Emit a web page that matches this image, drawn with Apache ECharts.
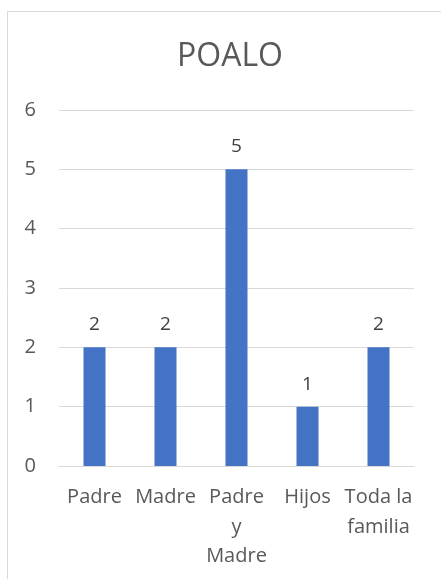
<!DOCTYPE html>
<html><head><meta charset="utf-8">
<script src="https://cdn.jsdelivr.net/npm/echarts@6/dist/echarts.min.js"></script>
<style>html,body{margin:0;padding:0;background:#fff}#c{width:441px;height:579px}</style>
</head><body><div id="c"></div>
<script>
var title = 'POALO';
var categories = ['Padre', 'Madre', 'Padre\ny\nMadre', 'Hijos', 'Toda la\nfamilia'];
var values = [2, 2, 5, 1, 2];
var yTicks = [0, 1, 2, 3, 4, 5, 6];

var chart = echarts.init(document.getElementById('c'));
var font = '"Open Sans", "Noto Sans", sans-serif';
chart.setOption({
  animation: false,
  graphic: [{
    type: 'rect', shape: {x: 7.5, y: 11.5, width: 600, height: 700},
    style: {fill: 'none', stroke: '#d9d9d9', lineWidth: 1}, silent: true, z: -1
  }],
  title: {
    text: title, left: 225, textAlign: 'center', top: 36,
    textStyle: {fontFamily: font, fontSize: 32, fontWeight: 'normal', color: '#595959'}
  },
  grid: {left: 59, right: 27, top: 110, bottom: 113, containLabel: false},
  xAxis: {
    type: 'category', data: categories,
    axisLine: {show: true, lineStyle: {color: '#d9d9d9'}},
    axisTick: {show: false},
    axisLabel: {interval: 0, margin: 17, fontFamily: font, fontSize: 20, lineHeight: 29.5, color: '#595959'}
  },
  yAxis: {
    type: 'value', min: yTicks[0], max: yTicks[yTicks.length - 1], interval: 1,
    axisLine: {show: false}, axisTick: {show: false},
    splitLine: {lineStyle: {color: '#d9d9d9', width: 1}},
    axisLabel: {margin: 23, fontFamily: font, fontSize: 20, color: '#595959'}
  },
  series: [{
    type: 'bar', data: values, barWidth: 22,
    itemStyle: {color: '#4472C4'},
    label: {show: true, position: 'top', distance: 13, fontFamily: font, fontSize: 19, color: '#404040'}
  }]
});
</script></body></html>
